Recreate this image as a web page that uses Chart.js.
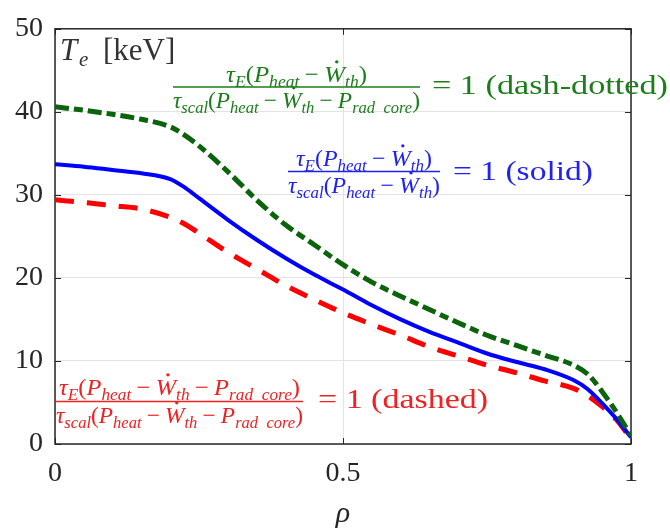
<!DOCTYPE html>
<html>
<head>
<meta charset="utf-8">
<script src="https://cdn.jsdelivr.net/npm/chart.js@4/dist/chart.umd.min.js"></script>
<style>
  html, body { margin: 0; padding: 0; background: #fff; }
  #wrap { width: 670px; height: 532px; position: relative; }
</style>
</head>
<body>
<div id="wrap"><canvas id="teChart"></canvas></div>
<script>
// normalised radius and the three Te profiles [keV]
const rho       = [0, 0.05, 0.1, 0.15, 0.2, 0.225, 0.25, 0.3, 0.35, 0.4, 0.45, 0.5, 0.55, 0.6, 0.65, 0.7, 0.75, 0.8, 0.85, 0.9, 0.925, 0.95, 0.975, 1.0];
const teDashDot = [40.6, 40.2, 39.7, 39.1, 38.2, 37.2, 35.9, 32.8, 29.4, 26.4, 24.0, 21.6, 19.5, 17.8, 16.2, 14.6, 13.1, 11.9, 10.7, 9.5, 8.4, 6.3, 3.8, 1.0];
const teSolid   = [33.7, 33.4, 33.0, 32.6, 31.9, 30.9, 29.6, 27.0, 24.6, 22.4, 20.4, 18.6, 16.7, 15.0, 13.5, 12.2, 10.9, 9.9, 9.0, 7.7, 6.6, 4.9, 3.0, 0.8];
const teDashed  = [29.4, 29.1, 28.7, 28.3, 27.3, 26.5, 25.4, 23.1, 21.1, 19.1, 17.4, 15.8, 14.4, 13.1, 11.7, 10.6, 9.5, 8.6, 7.6, 6.7, 5.8, 4.5, 2.9, 0.6];

const xTicks = [0, 0.5, 1];
const yTicks = [0, 10, 20, 30, 40, 50];

const SERIF = '"Liberation Serif", "Times New Roman", serif';
const AXIS_COLOR = '#262626';

function toPoints(ys) {
    return rho.map((r, i) => ({ x: r, y: ys[i] }));
}

// pieces of an equation: [text, kind]
// kind: 'i' italic, 'r' roman, 's' italic subscript, 'op' binary operator, 'wd' italic W with a dot
const tauE = [['τ', 'i'], ['E', 's'], ['(', 'r']];
const tauScal = [['τ', 'i'], ['scal', 's'], ['(', 'r']];
const pHeat = [['P', 'i'], ['heat', 's']];
const wDot = [['−', 'op'], ['W', 'wd'], ['th', 's']];
const pRad = [['−', 'op'], ['P', 'i'], ['rad  core', 's']];
const close = [[')', 'r']];

const labels = [
    {
        color: '#1d7d1d',
        num: [...tauE, ...pHeat, ...wDot, ...close],
        den: [...tauScal, ...pHeat, ...wDot, ...pRad, ...close],
        left: 173, right: 420, barY: 87, numBase: 82, numW: 141, denBase: 108,
        tail: '= 1 (dash-dotted)', tailX: 432, tailW: 236, tailBase: 94
    },
    {
        color: '#2222ee',
        num: [...tauE, ...pHeat, ...wDot, ...close],
        den: [...tauScal, ...pHeat, ...wDot, ...close],
        left: 288, right: 440, barY: 171.5, numBase: 166, numW: 136, denBase: 193,
        tail: '= 1 (solid)', tailX: 453, tailW: 140, tailBase: 180
    },
    {
        color: '#ee2222',
        num: [...tauE, ...pHeat, ...wDot, ...pRad, ...close],
        den: [...tauScal, ...pHeat, ...wDot, ...pRad, ...close],
        left: 56, right: 303, barY: 401.5, numBase: 395, numW: 241, denBase: 423,
        tail: '= 1 (dashed)', tailX: 318, tailW: 170, tailBase: 408
    }
];

function pieceFont(kind, size) {
    if (kind === 's') return `italic ${Math.round(size * 0.7)}px ${SERIF}`;
    if (kind === 'i' || kind === 'wd') return `italic ${size}px ${SERIF}`;
    return `${size}px ${SERIF}`;
}

function pieceWidth(ctx, p, size) {
    ctx.font = pieceFont(p[1], size);
    let w = ctx.measureText(p[0]).width;
    if (p[1] === 'op') w += size * 0.44;
    return w;
}

// draws a row of math pieces starting at x0, stretched to width w
function drawMath(ctx, parts, x0, base, size, color, w) {
    const natural = parts.reduce((s, p) => s + pieceWidth(ctx, p, size), 0);
    const sx = w ? w / natural : 1;
    ctx.save();
    ctx.translate(x0, base);
    ctx.scale(sx, 1);
    ctx.fillStyle = color;
    ctx.textBaseline = 'alphabetic';
    ctx.textAlign = 'left';
    let x = 0;
    parts.forEach(p => {
        const kind = p[1];
        ctx.font = pieceFont(kind, size);
        const tw = ctx.measureText(p[0]).width;
        if (kind === 'op') {
            ctx.fillText(p[0], x + size * 0.22, 0);
            x += tw + size * 0.44;
            return;
        }
        const dy = kind === 's' ? size * 0.22 : 0;
        ctx.fillText(p[0], x, dy);
        if (kind === 'wd') {
            ctx.beginPath();
            ctx.arc(x + tw * 0.6, -size * 0.84, size * 0.07, 0, Math.PI * 2);
            ctx.fill();
        }
        x += tw;
    });
    ctx.restore();
    return natural * sx;
}

const annotations = {
    id: 'annotations',
    beforeDatasetsDraw(chart) {
        const { ctx, chartArea: a, scales } = chart;
        ctx.save();
        ctx.strokeStyle = AXIS_COLOR;
        ctx.lineWidth = 1;
        // inward ticks on all four sides
        const tl = 6;
        ctx.beginPath();
        yTicks.forEach(v => {
            const py = Math.round(scales.y.getPixelForValue(v)) + 0.5;
            ctx.moveTo(a.left, py); ctx.lineTo(a.left + tl, py);
            ctx.moveTo(a.right, py); ctx.lineTo(a.right - tl, py);
        });
        xTicks.forEach(v => {
            const px = Math.round(scales.x.getPixelForValue(v)) + 0.5;
            ctx.moveTo(px, a.bottom); ctx.lineTo(px, a.bottom - tl);
            ctx.moveTo(px, a.top); ctx.lineTo(px, a.top + tl);
        });
        ctx.stroke();
        // axes box
        ctx.lineWidth = 1.5;
        ctx.strokeRect(a.left, a.top, a.right - a.left, a.bottom - a.top);
        ctx.restore();
    },
    afterDraw(chart) {
        const { ctx } = chart;
        ctx.save();
        // y-axis label inside the box
        ctx.fillStyle = '#333';
        ctx.textBaseline = 'alphabetic';
        ctx.font = `italic 31px ${SERIF}`;
        ctx.fillText('T', 60, 60);
        ctx.font = `italic 21px ${SERIF}`;
        ctx.fillText('e', 79, 66);
        ctx.font = `31px ${SERIF}`;
        ctx.fillText('[keV]', 103, 60);

        labels.forEach(l => {
            const numX = (l.left + l.right) / 2 - l.numW / 2;
            drawMath(ctx, l.num, numX, l.numBase, 24, l.color, l.numW);
            drawMath(ctx, l.den, l.left, l.denBase, 24, l.color, l.right - l.left);
            ctx.fillStyle = l.color;
            ctx.fillRect(l.left, l.barY - 0.75, l.right - l.left, 1.5);
            drawMath(ctx, [[l.tail, 'r']], l.tailX, l.tailBase, 28, l.color, l.tailW);
        });
        ctx.restore();
    }
};

new Chart(document.querySelector('#teChart'), {
    type: 'line',
    data: {
        datasets: [{
            label: 'dash-dotted',
            data: toPoints(teDashDot),
            borderColor: '#0b640b',
            borderWidth: 5,
            borderDash: [14, 5, 9, 5],
            borderCapStyle: 'butt'
        }, {
            label: 'solid',
            data: toPoints(teSolid),
            borderColor: '#0000ff',
            borderWidth: 4
        }, {
            label: 'dashed',
            data: toPoints(teDashed),
            borderColor: '#ff0000',
            borderWidth: 5,
            borderDash: [19, 13],
            borderCapStyle: 'butt'
        }]
    },
    options: {
        responsive: true,
        maintainAspectRatio: false,
        animation: false,
        elements: {
            point: { radius: 0 },
            line: { tension: 0.4, cubicInterpolationMode: 'monotone', fill: false }
        },
        layout: { padding: { top: 17, right: 39, left: 0, bottom: 0 } },
        plugins: {
            legend: { display: false },
            tooltip: { enabled: false }
        },
        scales: {
            x: {
                type: 'linear',
                min: 0,
                max: 1,
                afterBuildTicks: s => { s.ticks = xTicks.map(v => ({ value: v })); },
                afterFit: s => { s.height = 88; },
                ticks: {
                    color: AXIS_COLOR,
                    font: { family: SERIF, size: 28 },
                    padding: 13,
                    maxRotation: 0,
                    callback: v => String(v)
                },
                grid: { color: '#e4e4e4', drawTicks: false },
                border: { display: false },
                title: {
                    display: true,
                    text: 'ρ',
                    color: AXIS_COLOR,
                    font: { family: SERIF, size: 30, style: 'italic' },
                    padding: 0
                }
            },
            y: {
                min: 0,
                max: 50,
                afterBuildTicks: s => { s.ticks = yTicks.map(v => ({ value: v })); },
                afterFit: s => { s.width = 55; },
                ticks: {
                    color: AXIS_COLOR,
                    font: { family: SERIF, size: 28 },
                    padding: 12
                },
                grid: { color: '#e4e4e4', drawTicks: false },
                border: { display: false }
            }
        }
    },
    plugins: [annotations]
});
</script>
</body>
</html>
